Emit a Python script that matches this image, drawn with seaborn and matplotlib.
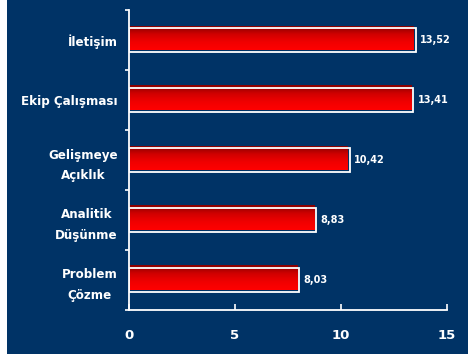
import numpy as np
import pandas as pd
import matplotlib
matplotlib.use("Agg")
import matplotlib.pyplot as plt
from matplotlib.colors import LinearSegmentedColormap
from matplotlib.patches import Rectangle
import seaborn as sns

categories = ["İletişim", "Ekip Çalışması", "Gelişmeye\nAçıklık", "Analitik\nDüşünme", "Problem\nÇözme"]
values = [13.52, 13.41, 10.42, 8.83, 8.03]
xticks = [0, 5, 10, 15]

navy = "#003366"
sns.set_theme(style="white")
plt.rcParams["font.family"] = ["DejaVu Sans"]

fig = plt.figure(figsize=(4.68, 3.56), dpi=100, facecolor="white")
fig.patches.append(Rectangle((7 / 468, 2 / 356), 1 - 7 / 468, 1 - 2 / 356,
                             transform=fig.transFigure, facecolor=navy,
                             edgecolor="none", zorder=-5))
ax = fig.add_axes([129 / 468, 46 / 356, (447 - 129) / 468, 300 / 356])
ax.set_zorder(2)
ax.set_facecolor(navy)
ax.patch.set_alpha(0)

df = pd.DataFrame({"cat": categories, "val": values})
sns.barplot(data=df, x="val", y="cat", orient="h", width=0.4,
            color="red", ax=ax, zorder=3)

cmap = LinearSegmentedColormap.from_list("g", ["#880000", "#d00000", "#f00000", "#ff0000"])
grad = np.linspace(0, 1, 64).reshape(-1, 1)
dx, dy = 0.09, 0.035
for p in list(ax.patches):
    x0, y0, w, h = p.get_x(), p.get_y(), p.get_width(), p.get_height()
    ax.imshow(grad, extent=(x0 - dx * 0.5, x0 + w - dx, y0 + h - dy, y0 - dy), origin="upper",
              aspect="auto", cmap=cmap, zorder=2, interpolation="bilinear")
    p.set_facecolor("none")
    p.set_edgecolor("white")
    p.set_linewidth(1.3)
    ax.text(x0 + w + 0.2, y0 + h / 2, f"{w:.2f}".replace(".", ","),
            color="white", fontsize=7, fontweight="bold", va="center", ha="left")

ax.set_xlim(0, 15)
ax.set_ylim(4.5, -0.5)
ax.set_xticks(xticks)
ax.set_xticklabels([str(t) for t in xticks])
ax.set_yticks(np.arange(-0.5, 4.6, 1.0), minor=False)
ax.set_yticklabels([])
ax.set_yticks(range(len(categories)), minor=True)
ax.set_yticklabels(categories, minor=True)
ax.tick_params(axis="y", which="minor", length=0, pad=8, labelsize=8.6, labelcolor="white")
ax.tick_params(axis="y", which="major", length=3, width=1.2, color="white", direction="out", left=True)
ax.tick_params(axis="x", length=4, width=1.2, color="white", direction="in", pad=14,
               labelsize=9.5, labelcolor="white", bottom=True)
for lab in ax.get_yticklabels(minor=True):
    lab.set_fontweight("bold")
    lab.set_multialignment("center")
    lab.set_linespacing(1.75)
for lab in ax.get_xticklabels():
    lab.set_fontweight("bold")
ax.set_xlabel("")
ax.set_ylabel("")
for s in ["top", "right"]:
    ax.spines[s].set_visible(False)
for s in ["left", "bottom"]:
    ax.spines[s].set_color("white")
    ax.spines[s].set_linewidth(1.3)
ax.grid(False)

fig.savefig("out.png", dpi=100, facecolor="white")
